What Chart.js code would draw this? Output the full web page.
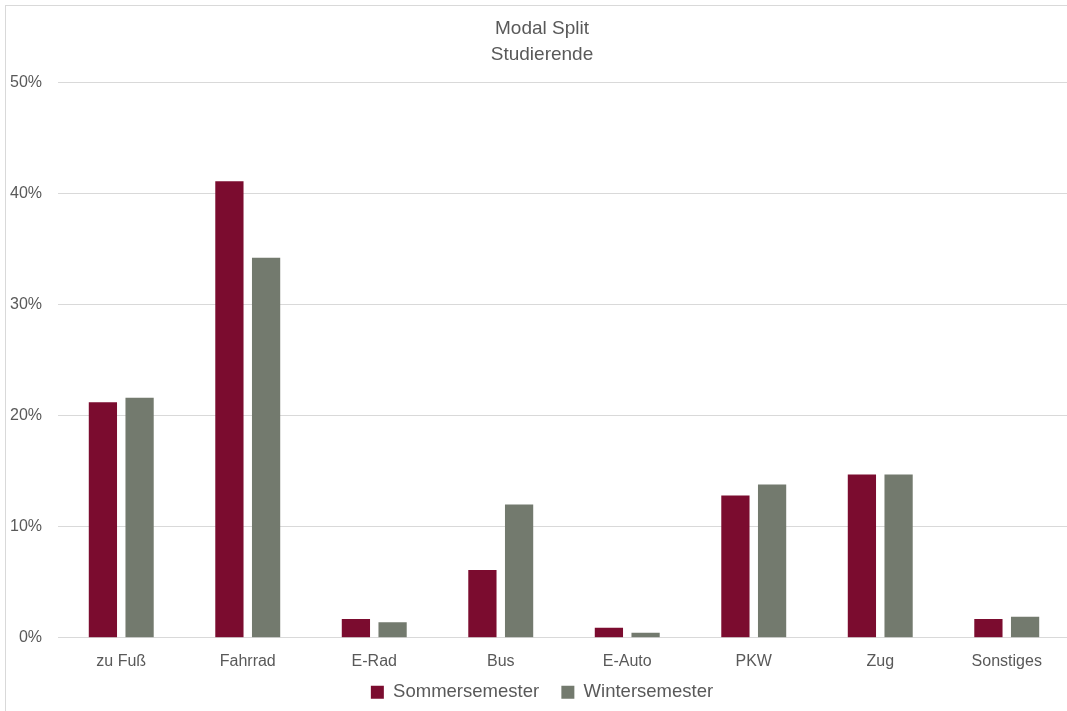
<!DOCTYPE html>
<html>
<head>
<meta charset="utf-8">
<script src="https://cdn.jsdelivr.net/npm/chart.js@4/dist/chart.umd.min.js"></script>
<style>
  body { margin: 0; background: #fff; overflow: hidden; }
  #wrap { position: relative; width: 1067px; height: 711px; overflow: hidden; }
  #frame { position: absolute; left: 5px; top: 5px; width: 1090px; height: 720px; border: 1px solid #d9d9d9; box-sizing: border-box; }
  canvas { position: absolute; left: 0; top: 0; }
</style>
</head>
<body>
<div id="wrap">
  <div id="frame"></div>
  <canvas id="modalChart" width="1085" height="711"></canvas>
</div>
<script>
// Modal Split Studierende
const categories = ['zu Fuß', 'Fahrrad', 'E-Rad', 'Bus', 'E-Auto', 'PKW', 'Zug', 'Sonstiges'];
const sommer = [21.2, 41.1, 1.7, 6.1, 0.9, 12.8, 14.7, 1.7];
const winter = [21.6, 34.2, 1.4, 12.0, 0.45, 13.8, 14.7, 1.9];
const yTicks = [0, 10, 20, 30, 40, 50];

const fontFam = '"Liberation Sans Narrow", "Arial Narrow", "Liberation Sans", Arial, sans-serif';
const textColor = '#595959';

// y labels reach a little further left than the layout box, so widen the clip area
const widenYAxis = {
    id: 'widenYAxis',
    afterLayout(chart) {
        chart.scales.y.left = 0;
    }
};

const ctx = document.getElementById('modalChart').getContext('2d');
new Chart(ctx, {
    type: 'bar',
    data: {
        labels: categories,
        datasets: [{
            label: 'Sommersemester',
            data: sommer,
            backgroundColor: '#7b0c2f',
            categoryPercentage: 0.58,
            barPercentage: 0.77
        }, {
            label: 'Wintersemester',
            data: winter,
            backgroundColor: '#737a6e',
            categoryPercentage: 0.58,
            barPercentage: 0.77
        }]
    },
    plugins: [widenYAxis],
    options: {
        responsive: false,
        animation: false,
        layout: { padding: { top: 16, right: 15, left: 14, bottom: 2 } },
        plugins: {
            title: {
                display: true,
                text: ['Modal Split', 'Studierende'],
                color: textColor,
                font: { family: fontFam, size: 19, weight: 'normal', lineHeight: 1.35 },
                padding: { top: 0, bottom: 15 }
            },
            legend: {
                position: 'bottom',
                maxHeight: 38,
                labels: {
                    color: textColor,
                    font: { family: fontFam, size: 18.5 },
                    boxWidth: 13,
                    boxHeight: 13,
                    padding: 12,
                    // a bit more room between the two entries
                    generateLabels: chart => {
                        const items = Chart.defaults.plugins.legend.labels.generateLabels(chart);
                        items[0].text += '\u00a0\u00a0';
                        return items;
                    }
                }
            },
            tooltip: { enabled: false }
        },
        scales: {
            x: {
                grid: { display: false },
                border: { color: '#d9d9d9' },
                afterFit: axis => { axis.height -= 6; },
                ticks: { color: textColor, font: { family: fontFam, size: 16 }, padding: 6 }
            },
            y: {
                min: 0,
                max: 50,
                afterBuildTicks: axis => { axis.ticks = yTicks.map(v => ({ value: v })); },
                afterFit: axis => { axis.width = 44; },
                grid: { color: '#d9d9d9', drawTicks: false },
                border: { display: false },
                ticks: {
                    color: textColor,
                    font: { family: fontFam, size: 16 },
                    padding: 16,
                    callback: v => v + '%'
                }
            }
        }
    }
});
</script>
</body>
</html>
